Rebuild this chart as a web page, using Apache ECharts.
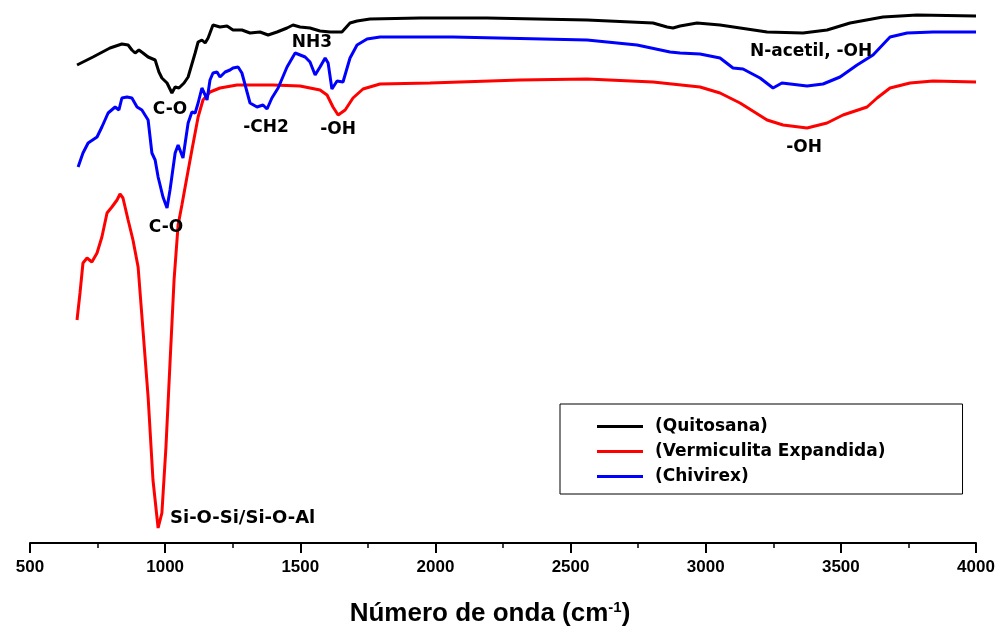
<!DOCTYPE html>
<html>
<head>
<meta charset="utf-8">
<script src="https://cdn.jsdelivr.net/npm/echarts@6/dist/echarts.min.js"></script>
<style>
  html, body { margin: 0; padding: 0; background: #fff; }
  #box { width: 1002px; height: 633px; }
</style>
</head>
<body>
<div id="box"></div>
<script>
// [numero de onda, transmitancia (u.a.)]
var quitosana = [
  [674, 47.8], [733, 48.6], [796, 49.5], [840, 49.9], [863, 49.8], [877, 49.3], [889, 49.0],
  [903, 49.3], [918, 49.0], [937, 48.6], [963, 48.3], [977, 47.1], [988, 46.5], [1007, 46.0],
  [1025, 45.0], [1037, 45.6], [1051, 45.5], [1070, 46.0], [1085, 46.6], [1111, 49.0], [1122, 50.1],
  [1136, 50.3], [1148, 50.0], [1159, 50.5], [1177, 51.8], [1203, 51.6], [1229, 51.7], [1251, 51.3],
  [1284, 51.3], [1314, 51.0], [1351, 51.1], [1381, 50.8], [1414, 51.1], [1451, 51.5], [1473, 51.8],
  [1499, 51.6], [1536, 51.5], [1573, 51.2], [1610, 51.1], [1654, 51.1], [1684, 52.0], [1710, 52.2],
  [1758, 52.4], [1943, 52.5], [2191, 52.5], [2561, 52.3], [2805, 52.0], [2857, 51.6], [2879, 51.5],
  [2905, 51.7], [2968, 52.0], [3053, 51.8], [3227, 51.1], [3360, 51.0], [3449, 51.3], [3534, 52.0],
  [3656, 52.6], [3782, 52.8], [4000, 52.7]
];
var vermiculita = [
  [674, 22.3], [685, 25.0], [696, 28.0], [711, 28.5], [729, 28.1], [748, 29.0], [766, 30.6],
  [785, 33.0], [803, 33.6], [822, 34.3], [833, 34.9], [844, 34.5], [863, 32.3], [881, 30.3],
  [900, 27.6], [918, 21.3], [937, 14.6], [955, 6.3], [974, 1.5], [988, 3.0], [1003, 9.6],
  [1018, 18.0], [1033, 26.3], [1048, 31.8], [1062, 33.8], [1074, 35.6], [1099, 39.3], [1122, 42.6],
  [1140, 44.3], [1166, 45.1], [1203, 45.5], [1266, 45.8], [1399, 45.8], [1499, 45.7], [1573, 45.3],
  [1599, 44.8], [1621, 43.6], [1640, 42.8], [1666, 43.3], [1695, 44.5], [1732, 45.4], [1795, 45.9],
  [1980, 46.0], [2313, 46.3], [2561, 46.4], [2805, 46.1], [2979, 45.6], [3053, 45.0], [3127, 44.0],
  [3227, 42.3], [3286, 41.8], [3375, 41.5], [3449, 42.0], [3508, 42.8], [3597, 43.6], [3634, 44.5],
  [3682, 45.5], [3756, 46.0], [3841, 46.2], [4000, 46.1]
];
var chivirex = [
  [678, 37.6], [696, 39.0], [715, 40.0], [748, 40.6], [766, 41.6], [789, 43.0], [815, 43.6],
  [829, 43.3], [840, 44.5], [859, 44.6], [877, 44.5], [896, 43.6], [914, 43.3], [937, 42.3],
  [951, 39.0], [963, 38.3], [974, 36.6], [992, 34.6], [1007, 33.5], [1018, 35.3], [1037, 39.0],
  [1048, 39.8], [1066, 38.5], [1085, 42.0], [1099, 43.1], [1111, 43.0], [1122, 44.0], [1136, 45.5],
  [1148, 44.8], [1155, 44.3], [1166, 46.3], [1177, 47.0], [1192, 47.1], [1203, 46.6], [1222, 47.1],
  [1240, 47.3], [1251, 47.5], [1270, 47.6], [1284, 47.0], [1296, 45.8], [1314, 44.0], [1340, 43.6],
  [1362, 43.8], [1377, 43.4], [1395, 44.5], [1418, 45.5], [1451, 47.6], [1481, 49.0], [1518, 48.6],
  [1536, 48.1], [1555, 46.8], [1573, 47.6], [1592, 48.5], [1603, 48.0], [1617, 45.4], [1636, 46.2],
  [1658, 46.1], [1684, 48.5], [1710, 49.8], [1747, 50.4], [1795, 50.6], [2065, 50.6], [2561, 50.3],
  [2746, 49.8], [2868, 49.1], [2905, 49.0], [2979, 48.9], [3053, 48.5], [3101, 47.5], [3138, 47.4],
  [3201, 46.5], [3249, 45.5], [3282, 46.0], [3375, 45.7], [3434, 45.9], [3497, 46.6], [3560, 47.8],
  [3619, 48.8], [3682, 50.6], [3745, 51.0], [3841, 51.1], [4000, 51.1]
];
var seriesNames = ['(Quitosana)', '(Vermiculita Expandida)', '(Chivirex)'];
var xTicks = [500, 1000, 1500, 2000, 2500, 3000, 3500, 4000];
// anotaciones de bandas: [x, y, texto]
var bandas = [
  [1018, 43.3, 'C-O'],
  [1003, 31.5, 'C-O'],
  [1373, 41.5, '-CH2'],
  [1640, 41.3, '-OH'],
  [1543, 50.0, 'NH3'],
  [3390, 49.1, 'N-acetil, -OH'],
  [3364, 39.5, '-OH']
];
var bandaSi = [1018, 2.5, 'Si-O-Si/Si-O-Al'];

var FONT = '"DejaVu Sans", Arial, sans-serif';
var AXFONT = 'Arial, "Liberation Sans", sans-serif';
var chart = echarts.init(document.getElementById('box'));

var labelData = bandas.map(function (b) {
  return { value: b };
});
labelData.push({ value: bandaSi, label: { position: 'right', distance: 0, fontSize: 18 } });

var option = {
  animation: false,
  backgroundColor: '#fff',
  grid: { left: 30, right: 26, top: 10, bottom: 90 },
  legend: {
    data: seriesNames,
    orient: 'vertical',
    left: 560,
    top: 404,
    icon: 'rect',
    itemWidth: 46,
    itemHeight: 3,
    itemGap: 8,
    padding: [14, 77, 9, 37],
    borderColor: '#000',
    borderWidth: 1,
    textStyle: { fontFamily: FONT, fontWeight: 'bold', fontSize: 17, color: '#000', lineHeight: 17, padding: [0, 0, 0, 7] }
  },
  xAxis: {
    type: 'value',
    min: xTicks[0],
    max: xTicks[xTicks.length - 1],
    interval: 500,
    name: 'Número de onda (cm{sup|-1})',
    nameLocation: 'middle',
    nameGap: 57,
    nameTextStyle: {
      fontFamily: AXFONT, fontWeight: 'bold', fontSize: 26, color: '#000', padding: [0, 26, 0, 0],
      rich: { sup: { fontFamily: AXFONT, fontWeight: 'bold', fontSize: 15, color: '#000', verticalAlign: 'top', padding: [0, 0, 12, 0] } }
    },
    axisLine: { lineStyle: { color: '#000', width: 2 } },
    axisTick: { inside: false, length: 10, lineStyle: { color: '#000', width: 2 } },
    minorTick: { show: true, splitNumber: 2, length: 5, lineStyle: { color: '#000', width: 1.5 } },
    axisLabel: {
      margin: 16, fontFamily: AXFONT, fontWeight: 'bold', fontSize: 17, color: '#000',
      formatter: function (v) { return String(v); }
    },
    splitLine: { show: false }
  },
  yAxis: { type: 'value', min: 0, max: 53.3, show: false, splitLine: { show: false } },
  series: [
    { name: seriesNames[0], type: 'line', data: quitosana, showSymbol: false, color: '#000000', lineStyle: { width: 3 } },
    { name: seriesNames[1], type: 'line', data: vermiculita, showSymbol: false, color: '#ff0000', lineStyle: { width: 3 } },
    { name: seriesNames[2], type: 'line', data: chivirex, showSymbol: false, color: '#0000ff', lineStyle: { width: 3 } },
    {
      name: 'bandas', type: 'scatter', symbolSize: 0, silent: true, z: 5,
      itemStyle: { opacity: 1 },
      data: labelData,
      label: {
        show: true, position: 'inside',
        formatter: function (p) { return p.value[2]; },
        fontFamily: FONT, fontWeight: 'bold', fontSize: 17, color: '#000', opacity: 1
      }
    }
  ]
};
chart.setOption(option);
</script>
</body>
</html>
